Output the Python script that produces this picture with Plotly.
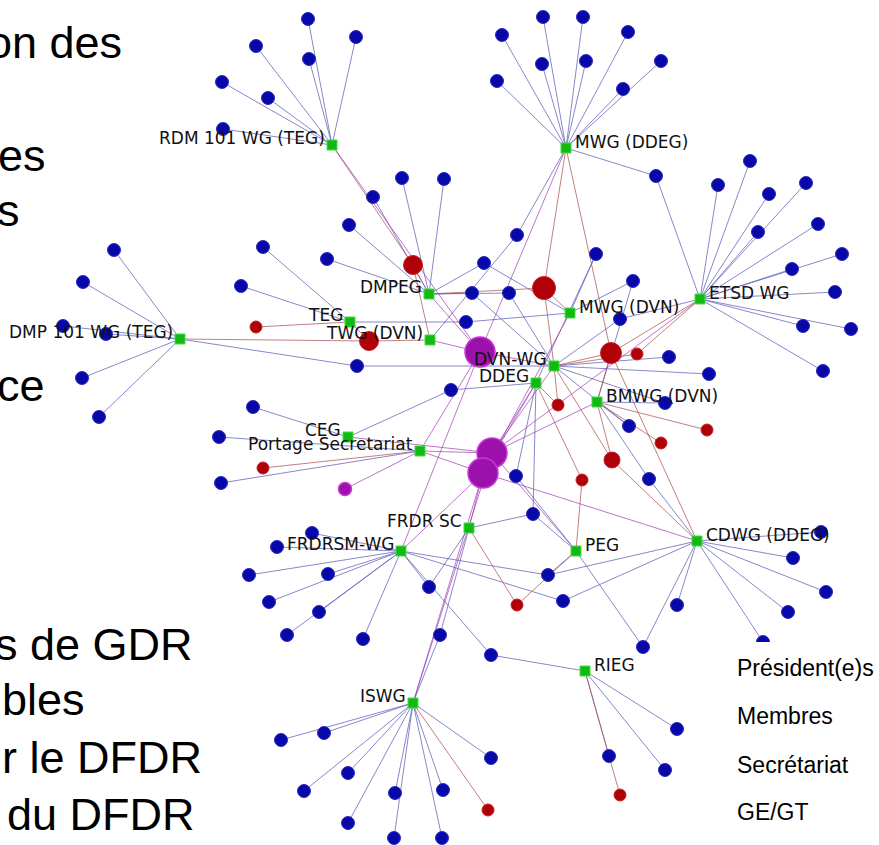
import plotly.graph_objects as go

# ---------------- data ----------------
# Group hubs (GE/GT)
hub_names = ["RDM 101 WG (TEG)", "MWG (DDEG)", "DMPEG", "TEG", "TWG (DVN)", "DMP 101 WG (TEG)",
             "MWG (DVN)", "ETSD WG", "DVN-WG", "DDEG", "BMWG (DVN)", "CEG", "Portage Secretariat",
             "FRDR SC", "FRDRSM-WG", "PEG", "CDWG (DDEG)", "RIEG", "ISWG"]
hub_keys = ["RDM", "MWGD", "DMPEG", "TEG", "TWG", "DMP", "MWGV", "ETSD", "DVN", "DDEG", "BMWG",
            "CEG", "PORT", "FSC", "FSM", "PEG", "CDWG", "RIEG", "ISWG"]
hub_x = [332, 566, 429, 350, 430, 180, 570, 700, 554, 536, 597, 348, 420, 469, 401, 576, 697, 585, 413]
hub_y = [145, 148, 294, 322, 340, 339, 313, 299, 366, 383, 402, 437, 451, 528, 551, 551, 541, 671, 703]
hub_label_side = ["L", "R", "L", "L", "L", "L", "R", "R", "L", "L", "R", "L", "L", "L", "L", "R", "R", "R", "L"]

# Members (Membres)
member_x = [308, 256, 356, 309, 222, 268, 223,
            543, 583, 502, 628, 542, 586, 661, 497, 623, 656,
            750, 718, 769, 806, 758, 818, 792, 842, 835, 803, 851, 823,
            114, 83, 63, 106, 82, 99, 263, 241, 357,
            402, 444, 373, 349, 327, 517, 484, 596, 633, 472, 509, 466, 620, 451,
            669, 709, 665, 629, 649, 516, 533, 548, 563, 429, 440, 491,
            312, 277, 249, 269, 287, 328, 319, 363, 253, 219, 221,
            281, 324, 348, 304, 348, 395, 394, 443, 442, 491,
            677, 665, 609, 821, 793, 826, 788, 763, 677, 643]
member_y = [19, 46, 37, 59, 82, 98, 129,
            17, 17, 35, 32, 64, 61, 61, 81, 89, 176,
            161, 185, 194, 183, 232, 224, 269, 254, 292, 326, 329, 371,
            250, 282, 326, 334, 378, 417, 247, 286, 366,
            178, 179, 197, 225, 259, 235, 263, 254, 281, 293, 293, 322, 319, 390,
            357, 374, 403, 426, 479, 476, 514, 575, 601, 587, 635, 655,
            533, 547, 575, 602, 635, 574, 612, 639, 407, 437, 483,
            740, 733, 773, 791, 823, 793, 838, 790, 838, 758,
            729, 770, 756, 532, 558, 592, 612, 642, 605, 647]
member_links = [["RDM"]] * 7 + [["MWGD"]] * 9 + [["MWGD", "ETSD"]] + [["ETSD"]] * 12 + \
    [["DMP"]] * 6 + [["TEG"], ["TEG"], ["DMP", "DVN"]] + [["DMPEG"]] * 5 + \
    [["MWGD", "TWG"], ["DMPEG", "MWGV"], ["MWGV", "DDEG"], ["MWGV", "BMWG"], ["DMPEG", "DVN"],
     ["DMPEG", "DVN"], ["TEG", "MWGV"], ["ETSD", "DVN"], ["DDEG", "CEG"],
     ["DVN"], ["DVN"], ["BMWG", "DVN"], ["BMWG", "DVN"], ["BMWG", "CDWG"], ["DDEG", "PEG"],
     ["FSC", "PEG", "DDEG"], ["FSM", "CDWG", "PEG"], ["FSM", "CDWG"], ["FSM", "FSC"],
     ["FSC", "ISWG"], ["FSM", "RIEG"]] + \
    [["FSM"]] * 8 + [["CEG"], ["PORT"], ["PORT"]] + [["ISWG"]] * 10 + [["RIEG"]] * 3 + \
    [["CDWG"]] * 6 + [["PEG", "CDWG"]]

# Presidents (Président(e)s)
pres_x = [413, 544, 369, 256, 611, 637, 558, 661, 707, 612, 582, 263, 517, 488, 620]
pres_y = [265, 288, 341, 327, 353, 354, 405, 443, 430, 460, 480, 468, 605, 810, 795]
pres_weight = [3, 4, 3, 1, 5, 1, 1, 1, 1, 2, 1, 1, 1, 1, 1]
pres_links = [["RDM", "DMPEG", "TWG"], ["MWGD", "MWGV", "DMPEG", "DVN"], ["TWG", "DMP", "TEG"],
              ["TEG"], ["MWGD", "ETSD", "BMWG", "CDWG", "DVN"], ["ETSD", "DVN"], ["DVN", "DDEG"],
              ["BMWG"], ["BMWG"], ["BMWG", "CDWG", "DVN"], ["PEG", "DDEG"], ["PORT"],
              ["FSC", "PEG"], ["ISWG"], ["RIEG"]]

# Secretariat (Secrétariat)
sec_x = [480, 492, 483, 345]
sec_y = [352, 453, 473, 489]
sec_weight = [7, 8, 7, 1]
sec_links = [["RDM", "DMPEG", "TWG", "DVN", "MWGD", "PORT", "FSM"],
             ["CEG", "PORT", "DDEG", "DVN", "ISWG", "ETSD", "BMWG", "PEG"],
             ["PORT", "FSC", "ISWG", "DDEG", "FSM", "MWGV", "CDWG"],
             ["PORT"]]

legend_items = ["Président(e)s", "Membres", "Secrétariat", "GE/GT"]
slide_text = ["on des", "es", "s", "ce", "s de GDR", "bles", "r le DFDR", "du DFDR"]

# ---------------- build ----------------
hub_pos = {k: (x, y) for k, x, y in zip(hub_keys, hub_x, hub_y)}


def edge_xy(xs, ys, links):
    ex, ey = [], []
    for x, y, lk in zip(xs, ys, links):
        for h in lk:
            hx, hy = hub_pos[h]
            ex += [x, hx, None]
            ey += [y, hy, None]
    return ex, ey


fig = go.Figure()
mx, my = edge_xy(member_x, member_y, member_links)
px, py = edge_xy(pres_x, pres_y, pres_links)
sx, sy = edge_xy(sec_x, sec_y, sec_links)
fig.add_trace(go.Scatter(x=mx, y=my, mode="lines", line=dict(color="rgba(95,95,185,0.75)", width=1),
                         hoverinfo="skip", showlegend=False))
fig.add_trace(go.Scatter(x=px, y=py, mode="lines", line=dict(color="rgba(175,85,85,0.75)", width=1),
                         hoverinfo="skip", showlegend=False))
fig.add_trace(go.Scatter(x=sx, y=sy, mode="lines", line=dict(color="rgba(160,60,180,0.7)", width=1),
                         hoverinfo="skip", showlegend=False))

fig.add_trace(go.Scatter(x=member_x, y=member_y, mode="markers",
                         marker=dict(size=13, color="#0808a8", opacity=1, line=dict(width=1, color="#2a2ac0")),
                         showlegend=False, hoverinfo="skip"))
pres_size = [12 if w == 1 else (16 if w == 2 else (19 if w == 3 else (23 if w == 4 else 21))) for w in pres_weight]
fig.add_trace(go.Scatter(x=pres_x, y=pres_y, mode="markers",
                         marker=dict(size=pres_size, color="#b00008", opacity=1, line=dict(width=1, color="#c82020")),
                         showlegend=False, hoverinfo="skip"))
sec_size = [13 if w == 1 else 30 for w in sec_weight]
fig.add_trace(go.Scatter(x=sec_x, y=sec_y, mode="markers",
                         marker=dict(size=sec_size, color="#9c10ac", opacity=1, line=dict(width=1.5, color="#c838d8")),
                         showlegend=False, hoverinfo="skip"))
fig.add_trace(go.Scatter(x=hub_x, y=hub_y, mode="markers",
                         marker=dict(size=10, symbol="square", color="#14b814", opacity=1,
                                     line=dict(width=1, color="#3fe03f")),
                         showlegend=False, hoverinfo="skip"))

annotations = []
for name, x, y, side in zip(hub_names, hub_x, hub_y, hub_label_side):
    if side == "L":
        annotations.append(dict(x=x - 5, y=y - 7, text=name, xanchor="right", yanchor="middle",
                                showarrow=False, font=dict(family="DejaVu Sans", size=17, color="#111")))
    else:
        annotations.append(dict(x=x + 7, y=y - 6, text=name, xanchor="left", yanchor="middle",
                                showarrow=False, font=dict(family="DejaVu Sans", size=17, color="#111")))

slide_right = [122, 46, 20, 45, 193, 85, 202, 195]
slide_base = [55, 168, 223, 398, 657, 712, 770, 827]
for t, xr, yb in zip(slide_text, slide_right, slide_base):
    annotations.append(dict(x=xr + 2, y=yb - 13, text=t, xanchor="right", yanchor="middle", showarrow=False,
                            font=dict(family="Liberation Sans, Arial", size=45, color="#000")))

leg_base = [675, 723, 772, 819]
for t, yb in zip(legend_items, leg_base):
    annotations.append(dict(x=735, y=yb - 7, text=t, xanchor="left", yanchor="middle", showarrow=False,
                            font=dict(family="Liberation Sans, Arial", size=23, color="#000")))

fig.update_layout(
    width=879, height=845,
    margin=dict(l=0, r=0, t=0, b=0),
    paper_bgcolor="white", plot_bgcolor="white",
    xaxis=dict(range=[0, 879], visible=False, fixedrange=True),
    yaxis=dict(range=[845, 0], visible=False, fixedrange=True),
    annotations=annotations,
    shapes=[dict(type="rect", xref="x", yref="y", x0=725, x1=879, y0=642, y1=845,
                 fillcolor="white", line=dict(width=0), layer="above")],
)

fig.write_html("out.html", config={"displayModeBar": False},
               post_script="document.body.style.margin='0px';")
